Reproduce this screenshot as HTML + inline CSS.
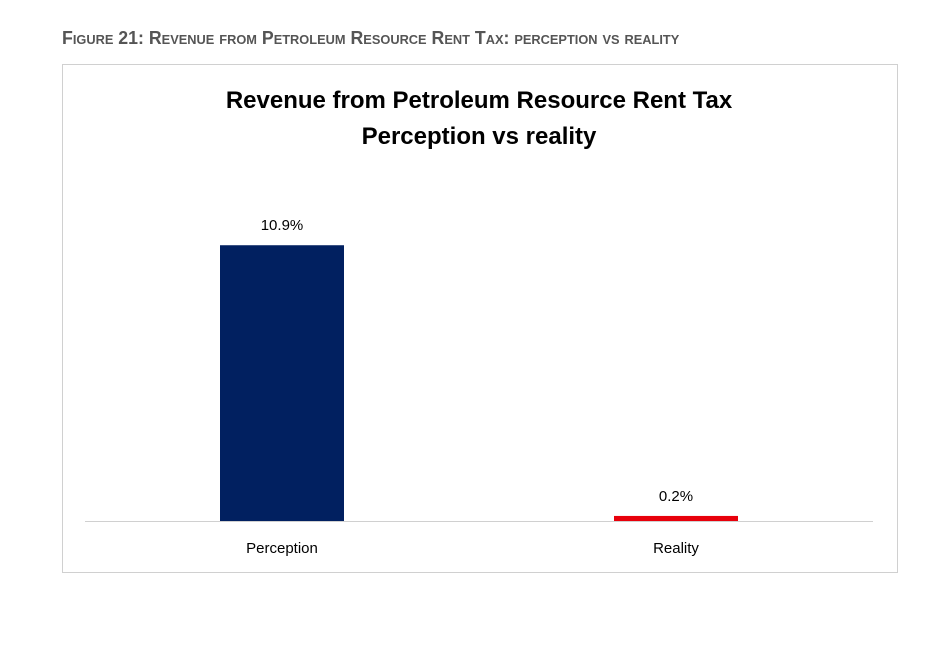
<!DOCTYPE html>
<html><head><meta charset="utf-8"><style>
body{margin:0;width:925px;height:660px;background:#fff;font-family:"Liberation Sans",sans-serif;overflow:hidden;position:relative}
#fig{position:absolute;left:62px;top:28px;font-weight:bold;font-size:18px;color:#555;font-variant:small-caps;letter-spacing:0px;transform:scaleX(0.985);transform-origin:left;white-space:nowrap}
#box{position:absolute;left:62px;top:64px;width:834px;height:507px;border:1px solid #d0d0d0}
</style></head><body>
<div id="fig">Figure 21: Revenue from Petroleum Resource Rent Tax: perception vs reality</div>
<div id="box"></div>
<svg id="chart" width="925" height="660" style="position:absolute;left:0;top:0">
<text x="479" y="108" text-anchor="middle" font-size="24" font-weight="bold" fill="#000">Revenue from Petroleum Resource Rent Tax</text>
<text x="479" y="144" text-anchor="middle" font-size="24" font-weight="bold" fill="#000">Perception vs reality</text>
<line x1="85" x2="873" y1="521.5" y2="521.5" stroke="#d0d0d0" stroke-width="1"/>
<g id="marks"></g>
</svg>
<script>
const categories=["Perception","Reality"];
const values=[10.9,0.2];
const valueLabels=["10.9%","0.2%"];
const colors=["#012060","#e8000b"];
const baseY=521, pxPerUnit=25.3, plotLeft=85, plotW=788, barW=124;
function xCenter(i){return plotLeft+plotW/categories.length*(i+0.5);}
function yScale(v){return baseY-v*pxPerUnit;}
const g=document.getElementById('marks');
const NS="http://www.w3.org/2000/svg";
categories.forEach((c,i)=>{
  const r=document.createElementNS(NS,'rect');
  
  
  const y=yScale(values[i]);
  r.setAttribute('x',xCenter(i)-barW/2);r.setAttribute('y',y);
  r.setAttribute('width',barW);r.setAttribute('height',baseY-y);
  r.setAttribute('fill',colors[i]);g.appendChild(r);
  const t=document.createElementNS(NS,'text');
  
  
  t.setAttribute('x',xCenter(i));t.setAttribute('y',y-15);
  t.setAttribute('text-anchor','middle');t.setAttribute('font-size','15');
  t.textContent=valueLabels[i];g.appendChild(t);
  const l=document.createElementNS(NS,'text');
  
  
  l.setAttribute('x',xCenter(i));l.setAttribute('y',553);
  l.setAttribute('text-anchor','middle');l.setAttribute('font-size','15');
  l.textContent=c;g.appendChild(l);
});
</script>
</body></html>
